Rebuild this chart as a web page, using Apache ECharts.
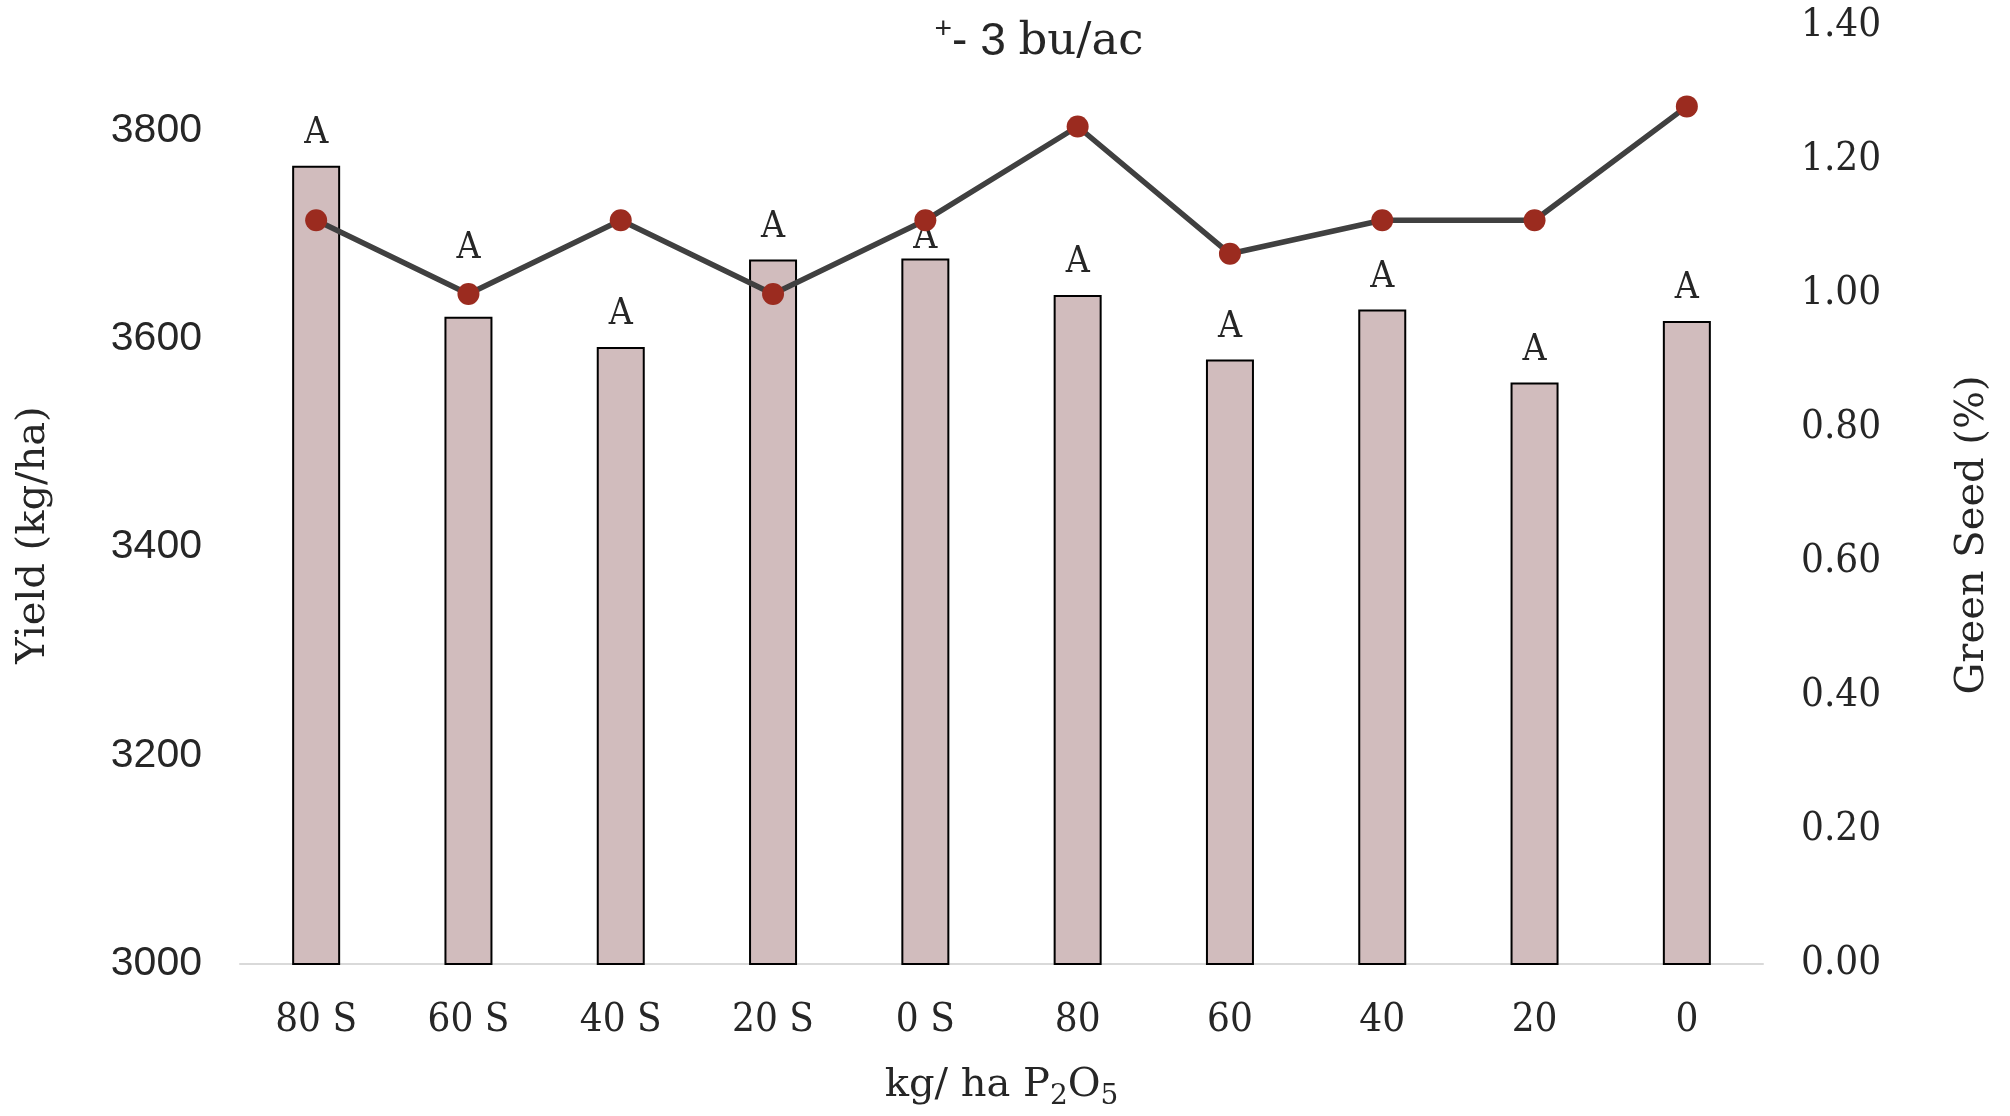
<!DOCTYPE html>
<html>
<head>
<meta charset="utf-8">
<script src="https://cdn.jsdelivr.net/npm/echarts@6/dist/echarts.min.js"></script>
<style>
  html, body { margin: 0; padding: 0; background: #fff; }
  #main { width: 2010px; height: 1116px; }
</style>
</head>
<body>
<div id="main"></div>
<script>
// treatments on the x axis
const categories = ['80 S', '60 S', '40 S', '20 S', '0 S', '80', '60', '40', '20', '0']
// yield, kg/ha (bars, left axis)
const yieldValues = [3766, 3621, 3592, 3676, 3677, 3642, 3580, 3628, 3558, 3617]
// letter groups shown above bars
const letters = ['A', 'A', 'A', 'A', 'A', 'A', 'A', 'A', 'A', 'A']
// green seed, % (line, right axis)
const greenSeed = [1.11, 1.00, 1.11, 1.00, 1.11, 1.25, 1.06, 1.11, 1.11, 1.28]

const serif = '"DejaVu Serif", serif'
const serifNarrow = '"DejaVu Serif Condensed", "DejaVu Serif", serif'
const textColor = '#262626'

// a couple of letters sit off their default spot in the original
const labelShift = { 1: -36, 4: 12 }

const chart = echarts.init(document.getElementById('main'))

const barData = yieldValues.map((v, i) => {
  const item = { value: v }
  if (labelShift[i]) {
    item.label = { offset: [0, labelShift[i]] }
  }
  return item
})

const option = {
  animation: false,
  backgroundColor: '#fff',
  title: {
    text: '{sup|+}{sans|- 3 }{ser|bu/ac}',
    left: 1034,
    top: 10,
    textAlign: 'center',
    textStyle: {
      fontWeight: 'normal',
      rich: {
        sup: { fontFamily: 'Liberation Sans', fontSize: 30, color: textColor, padding: [0, 0, 24, 0] },
        sans: { fontFamily: 'Liberation Sans', fontSize: 46, color: textColor },
        ser: { fontFamily: serif, fontSize: 45, color: textColor }
      }
    }
  },
  grid: {
    left: 240,
    right: 247,
    top: 26,
    bottom: 140
  },
  xAxis: {
    type: 'category',
    data: categories,
    axisTick: { show: false },
    axisLine: { lineStyle: { color: '#d9d9d9', width: 2 } },
    axisLabel: {
      fontFamily: serifNarrow,
      fontSize: 40,
      color: textColor,
      margin: 37
    },
    name: 'kg/ ha P{sub|2}O{sub|5}',
    nameLocation: 'middle',
    nameGap: 97,
    nameTextStyle: {
      fontFamily: serif,
      fontSize: 40,
      color: textColor,
      rich: {
        sub: { fontFamily: serif, fontSize: 28, color: textColor, padding: [22, 0, 0, 0] }
      }
    }
  },
  yAxis: [
    {
      type: 'value',
      min: 3000,
      max: 3900,
      interval: 200,
      splitLine: { show: false },
      axisLine: { show: false },
      axisTick: { show: false },
      axisLabel: {
        fontFamily: 'Liberation Sans',
        fontSize: 41,
        color: textColor,
        margin: 38,
        showMaxLabel: false,
        formatter: v => String(v)
      },
      name: 'Yield (kg/ha)',
      nameLocation: 'middle',
      nameGap: 186,
      nameTextStyle: { fontFamily: serif, fontSize: 40, color: textColor, padding: [0, 80, 0, 0] }
    },
    {
      type: 'value',
      min: 0,
      max: 1.4,
      interval: 0.2,
      splitLine: { show: false },
      axisLine: { show: false },
      axisTick: { show: false },
      axisLabel: {
        fontFamily: serifNarrow,
        fontSize: 40,
        color: textColor,
        margin: 38,
        formatter: v => v.toFixed(2)
      },
      name: 'Green Seed (%)',
      nameLocation: 'middle',
      nameRotate: 90,
      nameGap: 190,
      nameTextStyle: { fontFamily: serif, fontSize: 40, color: textColor, padding: [0, 80, 0, 0] }
    }
  ],
  series: [
    {
      name: 'Yield',
      type: 'bar',
      yAxisIndex: 0,
      data: barData,
      barWidth: 48,
      itemStyle: {
        color: '#d1bcbd',
        borderColor: '#000',
        borderWidth: 2
      },
      label: {
        show: true,
        position: 'top',
        distance: 14,
        fontFamily: serifNarrow,
        fontSize: 37,
        color: textColor,
        formatter: p => letters[p.dataIndex]
      },
      z: 2
    },
    {
      name: 'Green Seed',
      type: 'line',
      yAxisIndex: 1,
      data: greenSeed,
      symbol: 'circle',
      symbolSize: 22,
      lineStyle: { color: '#404040', width: 5.5 },
      itemStyle: { color: '#9b2b1f' },
      z: 5
    }
  ]
}

chart.setOption(option)
</script>
</body>
</html>
